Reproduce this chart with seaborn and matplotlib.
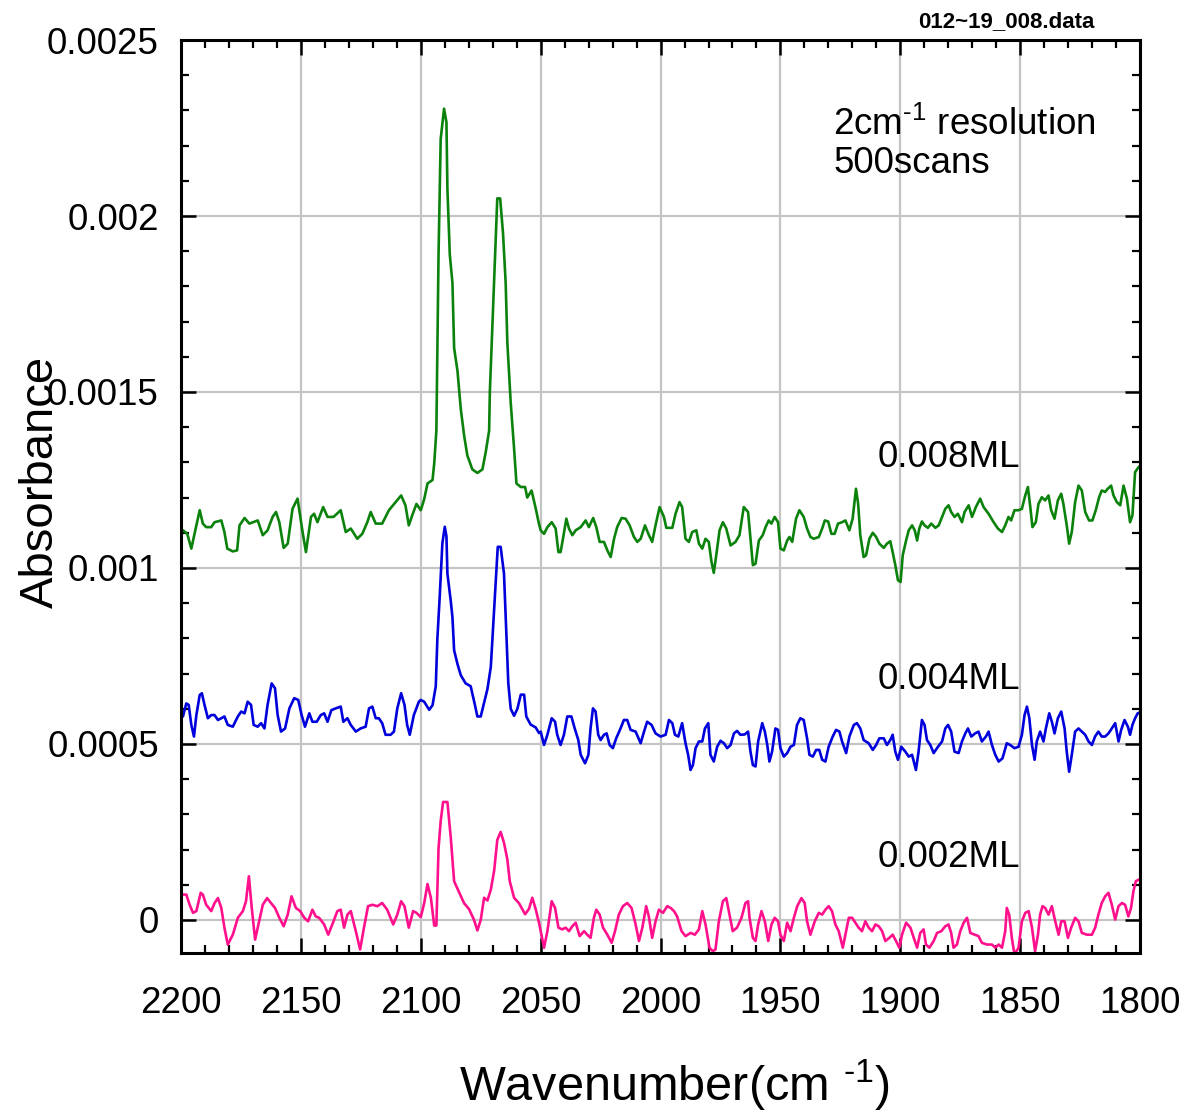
import numpy as np
import pandas as pd
import matplotlib
matplotlib.use("Agg")
import matplotlib.pyplot as plt
from matplotlib.ticker import MultipleLocator, FuncFormatter
import seaborn as sns

# ---------------- data (absorbance in units of 1e-4) ----------------
green_wn = [2199.2, 2197.4, 2195.7, 2193.6, 2192.2, 2190.9, 2189.5, 2187.4, 2186.0, 2183.2,
            2181.9, 2180.7, 2178.4, 2176.6, 2175.6, 2173.5, 2171.5, 2168.0, 2165.9, 2163.9,
            2161.8, 2160.4, 2159.0, 2157.2, 2155.5, 2153.5, 2151.4, 2149.3, 2147.9, 2145.8,
            2144.5, 2143.1, 2140.7, 2138.9, 2136.4, 2133.4, 2131.3, 2129.2, 2126.5, 2124.4,
            2122.3, 2120.9, 2118.8, 2116.1, 2113.3, 2110.5, 2108.2, 2106.4, 2105.0, 2103.6,
            2101.8, 2100.0, 2098.6, 2097.2, 2095.1, 2094.4, 2093.5, 2092.6, 2091.7, 2090.3,
            2089.3, 2088.9, 2087.9, 2086.8, 2086.1, 2084.7, 2083.3, 2081.9, 2080.6, 2078.5,
            2076.4, 2074.3, 2072.9, 2071.5, 2071.2, 2070.1, 2069.0, 2068.1, 2066.9, 2065.7,
            2064.6, 2063.9, 2062.5, 2061.1, 2060.1, 2058.3, 2056.5, 2055.6, 2053.8, 2052.1,
            2050.7, 2050.0, 2048.6, 2047.2, 2045.4, 2043.75, 2042.6, 2041.7, 2040.7, 2039.3,
            2038.2, 2036.8, 2035.4, 2033.3, 2031.25, 2029.9, 2028.1, 2026.8, 2025.4, 2023.6,
            2022.2, 2020.8, 2019.4, 2018.1, 2016.25, 2014.6, 2012.9, 2011.1, 2009.7, 2008.3,
            2006.5, 2005.1, 2003.5, 2002.1, 2000.4, 1998.6, 1997.6, 1995.1, 1993.75, 1992.1,
            1991.0, 1989.6, 1988.2, 1986.8, 1985.1, 1984.0, 1982.6, 1981.25, 1979.9, 1978.75,
            1977.8, 1976.4, 1975.4, 1974.0, 1972.6, 1970.8, 1968.75, 1967.1, 1965.3, 1963.5,
            1962.5, 1961.5, 1960.4, 1959.0, 1957.4, 1956.2, 1954.9, 1953.8, 1952.4, 1951.0,
            1950.0, 1948.6, 1947.2, 1946.25, 1945.1, 1943.5, 1942.1, 1940.3, 1938.9, 1937.5,
            1936.1, 1934.0, 1932.6, 1931.5, 1930.1, 1928.75, 1927.4, 1926.0, 1924.3, 1922.9,
            1921.25, 1919.9, 1918.5, 1917.6, 1916.7, 1915.3, 1914.3, 1912.9, 1911.5, 1910.1,
            1908.75, 1906.9, 1905.6, 1904.2, 1903.2, 1902.1, 1901.0, 1899.9, 1899.0, 1897.6,
            1896.5, 1895.1, 1894.0, 1893.0, 1892.1, 1891.0, 1889.9, 1888.5, 1887.1, 1885.4,
            1884.0, 1882.6, 1881.25, 1879.9, 1878.8, 1877.4, 1876.0, 1874.3, 1873.2, 1871.5,
            1870.1, 1868.5, 1866.7, 1865.3, 1863.2, 1861.1, 1859.3, 1857.6, 1856.25, 1854.9,
            1853.8, 1852.4, 1850.7, 1849.3, 1847.9, 1846.8, 1845.8, 1844.9, 1843.5, 1842.4,
            1841.0, 1839.6, 1838.2, 1837.1, 1835.7, 1834.3, 1832.9, 1832.0, 1830.6, 1829.6,
            1828.5, 1827.1, 1825.7, 1824.3, 1822.9, 1821.3, 1819.9, 1818.5, 1817.1, 1816.0,
            1814.6, 1813.5, 1812.1, 1811.1, 1809.7, 1808.3, 1806.9, 1805.5, 1804.2, 1803.2,
            1802.1, 1800.7, 1800.0]
green_abs = [11.07, 10.97, 10.55, 11.21, 11.64, 11.26, 11.16, 11.16, 11.30, 11.35,
             11.02, 10.55, 10.47, 10.50, 11.21, 11.42, 11.26, 11.35, 10.93, 11.07,
             11.45, 11.59, 11.30, 10.57, 10.69, 11.68, 11.97, 11.02, 10.45, 11.45,
             11.54, 11.30, 11.73, 11.45, 11.45, 11.64, 11.02, 11.12, 10.83, 10.97,
             11.30, 11.59, 11.26, 11.26, 11.64, 11.87, 12.06, 11.78, 11.21, 11.49,
             11.82, 11.64, 11.95, 12.40, 12.50, 12.97, 13.90, 18.90, 22.19, 23.05,
             22.66, 20.78, 18.90, 18.10, 16.25, 15.60, 14.50, 13.75, 13.20, 12.80,
             12.70, 12.80, 13.30, 13.90, 15.00, 17.00, 18.90, 20.50, 20.50, 19.50,
             18.10, 16.40, 14.70, 13.40, 12.40, 12.30, 12.30, 12.00, 12.20, 11.70,
             11.25, 11.07, 10.97, 11.16, 11.30, 11.12, 10.45, 10.45, 10.83, 11.40,
             11.12, 10.93, 11.07, 11.16, 11.35, 11.16, 11.42, 11.16, 10.74, 10.74,
             10.50, 10.31, 10.83, 11.16, 11.42, 11.40, 11.21, 10.88, 10.74, 10.83,
             11.21, 10.97, 10.74, 11.21, 11.73, 11.45, 11.14, 11.14, 11.54, 11.87,
             11.73, 10.83, 10.74, 11.02, 11.07, 10.69, 10.55, 10.83, 10.74, 10.17,
             9.86, 10.55, 11.07, 11.30, 11.12, 10.64, 10.74, 10.93, 11.73, 11.59,
             10.83, 10.08, 10.12, 10.78, 10.93, 11.16, 11.35, 11.26, 11.45, 11.30,
             10.55, 10.50, 10.78, 10.88, 10.74, 11.40, 11.64, 11.45, 11.12, 10.88,
             10.83, 10.88, 11.12, 11.35, 11.32, 10.97, 10.97, 11.26, 11.30, 11.35,
             11.07, 11.40, 12.25, 11.82, 10.93, 10.31, 10.36, 10.83, 11.00, 10.88,
             10.69, 10.57, 10.69, 10.76, 10.45, 10.08, 9.65, 9.60, 10.36, 10.78,
             11.07, 11.21, 11.07, 10.78, 11.12, 11.32, 11.21, 11.14, 11.26, 11.14,
             11.21, 11.45, 11.68, 11.78, 11.59, 11.45, 11.54, 11.30, 11.59, 11.78,
             11.45, 11.73, 11.97, 11.73, 11.54, 11.30, 11.12, 11.02, 11.21, 11.45,
             11.35, 11.64, 11.64, 11.68, 12.06, 12.30, 11.73, 11.16, 11.30, 11.82,
             12.01, 11.92, 12.06, 11.64, 11.40, 11.92, 12.11, 11.82, 11.21, 10.69,
             11.02, 11.87, 12.34, 12.20, 11.59, 11.35, 11.35, 11.64, 12.01, 12.20,
             12.16, 12.25, 12.34, 12.06, 11.87, 11.78, 12.34, 11.97, 11.30, 11.49,
             12.72, 12.86, 12.90]

blue_wn = [2199.2, 2197.8, 2196.8, 2195.7, 2194.6, 2193.6, 2192.2, 2191.3, 2190.2, 2188.8,
           2187.4, 2186.0, 2184.6, 2183.2, 2181.9, 2180.5, 2178.4, 2176.3, 2174.9, 2173.5,
           2172.2, 2170.8, 2169.7, 2168.0, 2166.6, 2165.2, 2163.9, 2162.2, 2160.8, 2159.7,
           2158.3, 2156.6, 2154.8, 2152.8, 2151.1, 2149.7, 2148.3, 2146.5, 2145.2, 2143.4,
           2141.7, 2140.3, 2138.9, 2137.3, 2135.5, 2133.4, 2132.3, 2130.6, 2129.2, 2127.1,
           2125.1, 2123.0, 2121.6, 2120.2, 2118.8, 2117.5, 2116.1, 2114.7, 2112.6, 2111.2,
           2109.8, 2108.2, 2106.8, 2105.7, 2104.6, 2102.9, 2100.8, 2100.0, 2098.6, 2096.5,
           2095.1, 2093.75, 2093.1, 2092.1, 2091.0, 2090.0, 2089.3, 2088.9, 2087.5, 2086.8,
           2086.1, 2084.7, 2083.3, 2081.3, 2079.2, 2077.4, 2076.4, 2075.0, 2073.6, 2072.2,
           2070.8, 2069.9, 2068.75, 2067.9, 2066.7, 2065.3, 2064.3, 2063.5, 2062.5, 2061.1,
           2059.7, 2058.3, 2056.9, 2056.0, 2054.2, 2052.1, 2050.7, 2050.0, 2048.6, 2047.2,
           2045.4, 2044.0, 2043.1, 2041.7, 2040.3, 2038.9, 2037.2, 2035.8, 2034.3, 2033.3,
           2031.5, 2030.1, 2029.2, 2028.2, 2027.1, 2026.0, 2025.0, 2023.6, 2022.5, 2021.25,
           2019.9, 2018.5, 2016.7, 2015.3, 2013.9, 2012.5, 2010.4, 2008.3, 2006.9, 2005.6,
           2003.75, 2002.1, 2000.0, 1997.9, 1996.5, 1995.1, 1994.0, 1992.6, 1991.0, 1989.6,
           1988.5, 1987.5, 1986.5, 1985.4, 1984.0, 1982.6, 1981.5, 1980.1, 1979.2, 1977.8,
           1976.4, 1975.0, 1973.6, 1972.2, 1970.8, 1969.4, 1968.1, 1966.7, 1964.9, 1963.5,
           1962.5, 1961.5, 1960.4, 1959.3, 1957.6, 1956.5, 1955.5, 1954.6, 1953.5, 1952.1,
           1951.0, 1950.0, 1948.6, 1947.2, 1945.8, 1944.4, 1943.1, 1941.7, 1940.3, 1938.9,
           1937.9, 1936.5, 1935.1, 1933.8, 1932.6, 1931.25, 1929.9, 1928.2, 1926.8, 1925.4,
           1924.3, 1922.6, 1921.25, 1919.4, 1918.1, 1916.7, 1915.3, 1913.2, 1911.5, 1910.1,
           1908.75, 1906.9, 1905.6, 1904.2, 1903.2, 1902.1, 1901.0, 1899.6, 1897.9, 1896.5,
           1895.1, 1893.5, 1892.4, 1891.0, 1889.9, 1888.9, 1887.5, 1886.1, 1884.3, 1882.6,
           1881.25, 1880.1, 1878.8, 1877.4, 1875.7, 1874.3, 1872.9, 1871.8, 1870.4, 1868.8,
           1867.4, 1866.0, 1864.3, 1863.2, 1861.8, 1860.4, 1859.0, 1857.4, 1855.6, 1854.2,
           1852.4, 1850.7, 1849.3, 1848.2, 1847.2, 1846.2, 1845.1, 1844.0, 1843.1, 1841.7,
           1840.3, 1839.3, 1837.9, 1836.8, 1835.7, 1834.3, 1832.9, 1831.5, 1830.6, 1829.6,
           1828.5, 1827.1, 1825.7, 1824.3, 1822.9, 1821.5, 1820.1, 1818.8, 1817.4, 1816.0,
           1814.6, 1813.2, 1811.8, 1810.4, 1809.0, 1807.9, 1806.5, 1805.1, 1804.2, 1803.2,
           1802.1, 1801.0, 1800.0]
blue_abs = [5.78, 6.15, 6.11, 5.54, 5.21, 5.82, 6.39, 6.44, 6.11, 5.73,
            5.82, 5.82, 5.68, 5.73, 5.78, 5.54, 5.49, 5.78, 5.92, 5.87,
            6.20, 6.11, 5.54, 5.49, 5.59, 5.44, 6.11, 6.72, 6.58, 5.82,
            5.35, 5.44, 6.01, 6.30, 6.25, 5.82, 5.49, 5.87, 5.63, 5.63,
            5.82, 5.87, 5.63, 5.96, 6.01, 6.06, 5.63, 5.73, 5.54, 5.35,
            5.44, 5.49, 6.01, 6.06, 5.73, 5.73, 5.59, 5.26, 5.26, 5.35,
            6.01, 6.44, 6.11, 5.54, 5.26, 5.82, 6.20, 6.25, 6.20, 5.97,
            6.10, 6.64, 7.97, 9.20, 10.70, 11.17, 10.90, 9.84, 9.06, 8.60,
            7.66, 7.27, 6.95, 6.72, 6.64, 6.10, 5.78, 5.78, 6.17, 6.56,
            7.19, 8.28, 9.60, 10.60, 10.60, 9.84, 8.10, 6.72, 6.00, 5.80,
            6.00, 6.40, 6.40, 5.78, 5.55, 5.47, 5.31, 5.35, 4.97, 5.26,
            5.73, 5.63, 5.26, 4.97, 5.26, 5.78, 5.78, 5.44, 5.11, 4.69,
            4.45, 4.69, 5.44, 6.01, 5.92, 5.26, 5.11, 5.26, 5.30, 4.97,
            4.88, 5.16, 5.44, 5.68, 5.68, 5.40, 5.35, 5.02, 5.35, 5.63,
            5.54, 5.30, 5.21, 5.26, 5.68, 5.59, 5.26, 5.21, 5.59, 5.02,
            4.69, 4.26, 4.40, 4.88, 5.07, 5.07, 5.44, 5.59, 4.69, 4.50,
            4.92, 5.09, 5.02, 4.88, 4.97, 5.30, 5.37, 5.26, 5.27, 5.35,
            4.78, 4.40, 4.36, 5.07, 5.59, 5.35, 4.97, 4.50, 4.78, 5.44,
            5.40, 4.88, 4.64, 4.74, 4.92, 4.97, 5.54, 5.73, 5.68, 5.16,
            4.69, 4.64, 4.83, 4.83, 4.55, 4.50, 4.92, 5.21, 5.40, 5.35,
            5.07, 4.74, 5.21, 5.54, 5.59, 5.44, 5.11, 5.02, 4.83, 4.97,
            5.16, 5.16, 4.97, 5.11, 5.26, 4.78, 4.55, 4.92, 4.78, 4.64,
            4.69, 4.26, 4.78, 5.68, 5.54, 5.11, 4.97, 4.74, 4.92, 5.07,
            5.44, 5.54, 5.35, 4.78, 4.74, 5.07, 5.30, 5.44, 5.21, 5.30,
            5.35, 5.07, 5.21, 5.35, 4.97, 4.69, 4.50, 4.59, 5.02, 4.97,
            4.88, 4.92, 5.26, 5.82, 6.06, 5.73, 4.97, 4.55, 5.07, 5.35,
            5.07, 5.44, 5.87, 5.63, 5.30, 5.73, 5.92, 5.44, 4.78, 4.21,
            4.69, 5.35, 5.44, 5.35, 5.26, 5.07, 4.97, 5.21, 5.35, 5.21,
            5.21, 5.30, 5.44, 5.59, 5.07, 5.40, 5.68, 5.49, 5.26, 5.54,
            5.73, 5.87, 5.90]

pink_wn = [2199.2, 2197.8, 2196.4, 2195.0, 2193.6, 2191.8, 2190.9, 2189.5, 2187.4, 2186.0,
           2184.6, 2183.2, 2181.9, 2180.5, 2178.4, 2176.3, 2174.2, 2172.9, 2171.7, 2170.5,
           2169.1, 2168.0, 2165.9, 2164.1, 2162.5, 2160.8, 2159.0, 2157.2, 2155.5, 2153.9,
           2152.1, 2150.3, 2148.6, 2147.0, 2145.2, 2143.8, 2142.4, 2140.3, 2138.6, 2136.4,
           2134.8, 2133.4, 2132.0, 2130.6, 2129.2, 2127.1, 2125.3, 2123.7, 2122.0, 2120.2,
           2118.1, 2116.1, 2114.0, 2111.5, 2109.8, 2108.2, 2106.8, 2105.0, 2103.2, 2101.8,
           2100.0, 2098.6, 2097.2, 2095.8, 2094.4, 2093.5, 2092.6, 2091.7, 2090.7, 2088.9,
           2087.5, 2086.1, 2084.0, 2081.9, 2079.9, 2077.8, 2076.4, 2075.0, 2073.6, 2072.2,
           2070.8, 2069.4, 2068.1, 2066.7, 2065.3, 2063.9, 2062.9, 2061.1, 2059.0, 2056.5,
           2054.9, 2053.5, 2052.1, 2050.7, 2050.0, 2048.6, 2047.2, 2045.4, 2044.0, 2042.6,
           2041.0, 2039.6, 2038.2, 2036.8, 2035.4, 2033.75, 2031.9, 2030.6, 2029.2, 2027.8,
           2026.8, 2025.4, 2024.0, 2022.2, 2020.4, 2019.0, 2017.4, 2015.7, 2013.9, 2012.1,
           2010.4, 2009.0, 2007.6, 2006.0, 2004.9, 2003.5, 2002.1, 2000.7, 1999.0, 1997.2,
           1995.8, 1994.4, 1993.1, 1991.25, 1989.6, 1987.5, 1985.7, 1984.0, 1982.6, 1981.25,
           1979.6, 1978.2, 1977.1, 1975.7, 1974.0, 1972.6, 1971.25, 1969.9, 1968.1, 1966.25,
           1964.6, 1963.5, 1962.9, 1961.5, 1960.4, 1959.3, 1957.9, 1956.5, 1955.1, 1953.75,
           1952.4, 1951.0, 1950.0, 1948.6, 1947.2, 1945.8, 1944.4, 1943.0, 1941.25, 1939.9,
           1938.9, 1937.5, 1935.7, 1934.0, 1932.6, 1931.25, 1929.9, 1928.5, 1927.1, 1925.7,
           1924.0, 1922.9, 1921.5, 1920.1, 1918.75, 1917.4, 1916.0, 1914.6, 1913.2, 1911.8,
           1910.4, 1909.0, 1907.6, 1906.25, 1904.6, 1903.2, 1901.8, 1900.4, 1899.3, 1897.6,
           1895.8, 1894.4, 1893.0, 1891.7, 1890.3, 1889.3, 1887.9, 1886.1, 1884.7, 1882.9,
           1881.25, 1879.9, 1878.8, 1877.8, 1876.4, 1875.0, 1873.6, 1872.2, 1870.8, 1869.0,
           1867.4, 1866.0, 1863.9, 1861.8, 1860.4, 1859.0, 1857.6, 1856.25, 1855.6, 1854.6,
           1853.5, 1852.4, 1850.7, 1849.3, 1847.9, 1846.5, 1845.1, 1843.8, 1842.6, 1841.7,
           1840.7, 1839.6, 1838.2, 1836.8, 1835.4, 1834.0, 1832.9, 1831.5, 1830.1, 1828.75,
           1827.1, 1825.7, 1824.3, 1822.2, 1820.1, 1818.75, 1817.4, 1816.0, 1814.6, 1813.2,
           1811.8, 1810.4, 1809.0, 1807.6, 1806.25, 1804.9, 1803.8, 1802.8, 1801.8, 1800.7,
           1800.0]
pink_abs = [0.72, 0.72, 0.43, 0.20, 0.25, 0.77, 0.72, 0.43, 0.25, 0.48,
            0.62, 0.34, -0.22, -0.70, -0.42, 0.06, 0.25, 0.53, 1.24, 0.34,
            -0.56, -0.22, 0.43, 0.62, 0.48, 0.34, 0.06, -0.18, 0.15, 0.67,
            0.34, 0.25, 0.06, -0.04, 0.29, 0.10, 0.06, -0.13, -0.42, -0.04,
            0.25, 0.29, -0.22, 0.15, 0.25, -0.32, -0.84, -0.22, 0.39, 0.43,
            0.39, 0.48, 0.29, -0.13, 0.15, 0.53, 0.39, -0.22, 0.25, 0.20,
            0.08, 0.47, 1.02, 0.63, -0.16, -0.16, 2.03, 2.81, 3.35, 3.35,
            2.34, 1.10, 0.78, 0.47, 0.31, 0.00, -0.30, 0.00, 0.63, 0.55,
            0.86, 1.40, 2.27, 2.50, 2.19, 1.72, 1.10, 0.63, 0.47, 0.16,
            0.31, 0.63, 0.31, -0.08, -0.32, -0.79, -0.32, 0.53, 0.34, -0.22,
            -0.27, -0.22, -0.32, -0.18, -0.08, -0.46, -0.32, -0.42, -0.51, 0.06,
            0.29, 0.15, -0.22, -0.42, -0.65, -0.32, 0.15, 0.39, 0.48, 0.34,
            -0.13, -0.60, -0.22, 0.39, 0.10, -0.51, -0.04, 0.29, 0.20, 0.39,
            0.34, 0.25, 0.10, -0.32, -0.46, -0.37, -0.42, -0.27, 0.25, -0.13,
            -0.79, -0.89, -0.84, -0.04, 0.53, 0.62, 0.15, -0.32, -0.22, 0.06,
            0.48, 0.53, 0.06, -0.51, -0.60, -0.13, 0.25, -0.04, -0.60, -0.13,
            0.06, -0.04, -0.42, -0.60, -0.08, -0.32, 0.06, 0.39, 0.62, 0.48,
            -0.04, -0.42, -0.04, 0.20, 0.15, 0.29, 0.39, 0.25, -0.13, -0.32,
            -0.79, -0.42, 0.06, 0.06, -0.08, -0.22, -0.32, -0.04, -0.22, -0.32,
            -0.13, -0.18, -0.32, -0.60, -0.51, -0.42, -0.60, -0.79, -0.42, -0.08,
            -0.22, -0.51, -0.79, -0.37, -0.27, -0.70, -0.79, -0.60, -0.37, -0.32,
            -0.18, -0.13, -0.37, -0.79, -0.70, -0.32, -0.08, 0.06, -0.37, -0.42,
            -0.46, -0.65, -0.70, -0.70, -0.79, -0.70, -0.79, -0.32, 0.34, 0.15,
            -0.51, -0.98, -0.79, -0.04, 0.20, 0.25, -0.22, -0.89, -0.42, 0.15,
            0.39, 0.34, 0.15, 0.39, -0.04, -0.42, -0.04, -0.04, -0.51, -0.22,
            0.06, -0.04, -0.37, -0.42, -0.42, -0.22, 0.15, 0.48, 0.67, 0.77,
            0.43, 0.01, 0.39, 0.48, 0.43, 0.10, 0.34, 0.81, 1.10, 1.14,
            1.15]

series_names = ["0.008ML", "0.004ML", "0.002ML"]
series_colors = ["#0b820b", "#0000dc", "#ff108c"]
scale = 1e-4

frames = []
for name, wn, ab in [("0.008ML", green_wn, green_abs),
                     ("0.004ML", blue_wn, blue_abs),
                     ("0.002ML", pink_wn, pink_abs)]:
    frames.append(pd.DataFrame({"wn": wn, "A": np.array(ab) * scale, "coverage": name}))
df = pd.concat(frames, ignore_index=True)

# ---------------- style ----------------
sns.set_style("white")
plt.rcParams["font.family"] = ["Liberation Sans", "DejaVu Sans"]
plt.rcParams["mathtext.fontset"] = "custom"
plt.rcParams["mathtext.rm"] = "Liberation Sans"
plt.rcParams["mathtext.it"] = "Liberation Sans"
plt.rcParams["mathtext.default"] = "regular"
for key in ["text.color", "axes.labelcolor", "xtick.color", "ytick.color",
            "xtick.labelcolor", "ytick.labelcolor"]:
    plt.rcParams[key] = "black"

fig = plt.figure(figsize=(11.87, 11.15), dpi=100)
ax = fig.add_axes([0.1525, 0.1453, 0.808, 0.8188])

sns.lineplot(data=df, x="wn", y="A", hue="coverage", hue_order=series_names,
             palette=series_colors, estimator=None, linewidth=1.9, legend=False, ax=ax)

ax.set_xlim(2200, 1800)
ax.set_ylim(-0.000094, 0.0025)

ax.xaxis.set_major_locator(MultipleLocator(50))
ax.xaxis.set_minor_locator(MultipleLocator(10))
ax.yaxis.set_major_locator(MultipleLocator(0.0005))
ax.yaxis.set_minor_locator(MultipleLocator(0.0001))
ax.yaxis.set_major_formatter(FuncFormatter(lambda v, p: "%g" % round(v, 6)))
ax.xaxis.set_major_formatter(FuncFormatter(lambda v, p: "%d" % round(v)))

ax.grid(True, which="major", color="#c4c4c4", linewidth=1.6)
ax.set_axisbelow(True)

for s in ax.spines.values():
    s.set_color("black")
    s.set_linewidth(2.2)

ax.tick_params(which="both", direction="in", top=True, right=True, bottom=True, left=True,
               color="black", labelcolor="black")
ax.tick_params(which="major", length=11, width=1.8, labelsize=26.5)
ax.tick_params(which="minor", length=5.5, width=1.6)
ax.tick_params(axis="x", which="major", pad=24)
ax.tick_params(axis="y", which="major", pad=16)

hy = "\u2010"
ax.set_xlabel("Wavenumber(cm $^{" + hy + "1}$)", fontsize=35, color="black")
ax.xaxis.set_label_coords(0.514, -0.115)
ax.set_ylabel("Absorbance", fontsize=34, color="black")
ax.yaxis.set_label_coords(-0.123, 0.516)

# annotations
ax.text(1909.3, 0.001315, "0.008ML", fontsize=26.5, ha="left", va="center")
ax.text(1909.3, 0.000682, "0.004ML", fontsize=26.5, ha="left", va="center")
ax.text(1909.3, 0.000176, "0.002ML", fontsize=26.5, ha="left", va="center")
ax.text(1928.0, 0.00226, "2cm$^{" + hy + "1}$ resolution", fontsize=26.5, ha="left", va="center")
ax.text(1928.0, 0.00215, "500scans", fontsize=26.5, ha="left", va="center")

ax.text(0.86, 1.02, "012~19_008.data", transform=ax.transAxes, fontsize=16,
        fontweight="bold", ha="center", va="center")

fig.savefig("out.png", dpi=100)
